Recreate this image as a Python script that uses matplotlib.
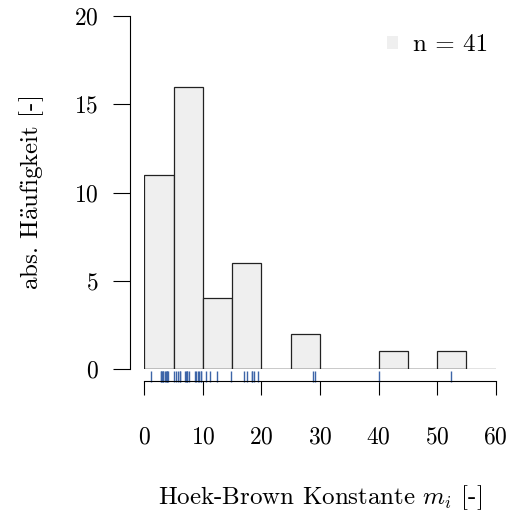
import matplotlib
matplotlib.use("Agg")
import matplotlib.pyplot as plt
from matplotlib.patches import Patch
import numpy as np

plt.rcParams["font.family"] = "serif"
plt.rcParams["font.serif"] = ["cmr10"]
plt.rcParams["mathtext.fontset"] = "cm"
plt.rcParams["axes.unicode_minus"] = False
plt.rcParams["axes.formatter.use_mathtext"] = True

# Hoek-Brown constant m_i of the individual samples
mi_values = [
    1.1, 2.85, 2.85, 3.1, 3.25, 3.25, 3.5, 3.7, 3.9, 3.9, 4.1,
    5.1, 5.35, 5.8, 6.1, 6.1, 6.95, 7.1, 7.35, 7.35, 7.7, 8.65, 8.9, 9.1, 9.35, 9.6, 9.6,
    10.5, 11.2, 12.35, 14.75,
    17.1, 17.5, 18.4, 18.4, 18.7, 19.4,
    28.8, 29.2,
    40.05,
    52.3,
]
bin_edges = list(range(0, 60, 5))
x_ticks = [0, 10, 20, 30, 40, 50, 60]
y_ticks = [0, 5, 10, 15, 20]

fs = 18
tick_fs = 17

fig = plt.figure(figsize=(5.07, 5.18), dpi=100)
ax = fig.add_axes([0.2846, 0.2876, 0.6931, 0.6815])

ax.hist(mi_values, bins=bin_edges, color="#efefef", edgecolor="#222222", linewidth=0.9)
ax.axhline(0, color="#222222", linewidth=0.9)

# rug of single observations below the baseline
ax.vlines(mi_values, -0.006, -0.037, transform=ax.get_xaxis_transform(),
          color="#3d65a8", linewidth=1.0, clip_on=False)

ax.set_xlim(0, 60)
ax.set_ylim(0, 20)
ax.set_xticks(x_ticks)
ax.set_yticks(y_ticks)

for side in ["top", "right"]:
    ax.spines[side].set_visible(False)
ax.spines["left"].set_position(("outward", 10))
ax.spines["bottom"].set_position(("outward", 8.6))
ax.spines["left"].set_bounds(0, 20)
ax.spines["bottom"].set_bounds(0, 60)
ax.tick_params(axis="y", length=12, pad=11, labelsize=tick_fs)
ax.tick_params(axis="x", length=10, pad=23, labelsize=tick_fs)

ax.set_xlabel(r"Hoek-Brown Konstante $m_i$ [-]", fontsize=fs, labelpad=25)
ax.set_ylabel(r"abs. H$\ddot{\mathrm{a}}$ufigkeit [-]", fontsize=fs, labelpad=20)

handle = Patch(facecolor="#efefef", edgecolor="none")
ax.legend([handle], ["n = 41"], loc="upper right", bbox_to_anchor=(1.0, 0.97),
          frameon=False, fontsize=fs, handlelength=0.45, handleheight=0.45,
          handletextpad=0.6, borderaxespad=0.0, borderpad=0.3)

fig.savefig("out.png", dpi=100)
